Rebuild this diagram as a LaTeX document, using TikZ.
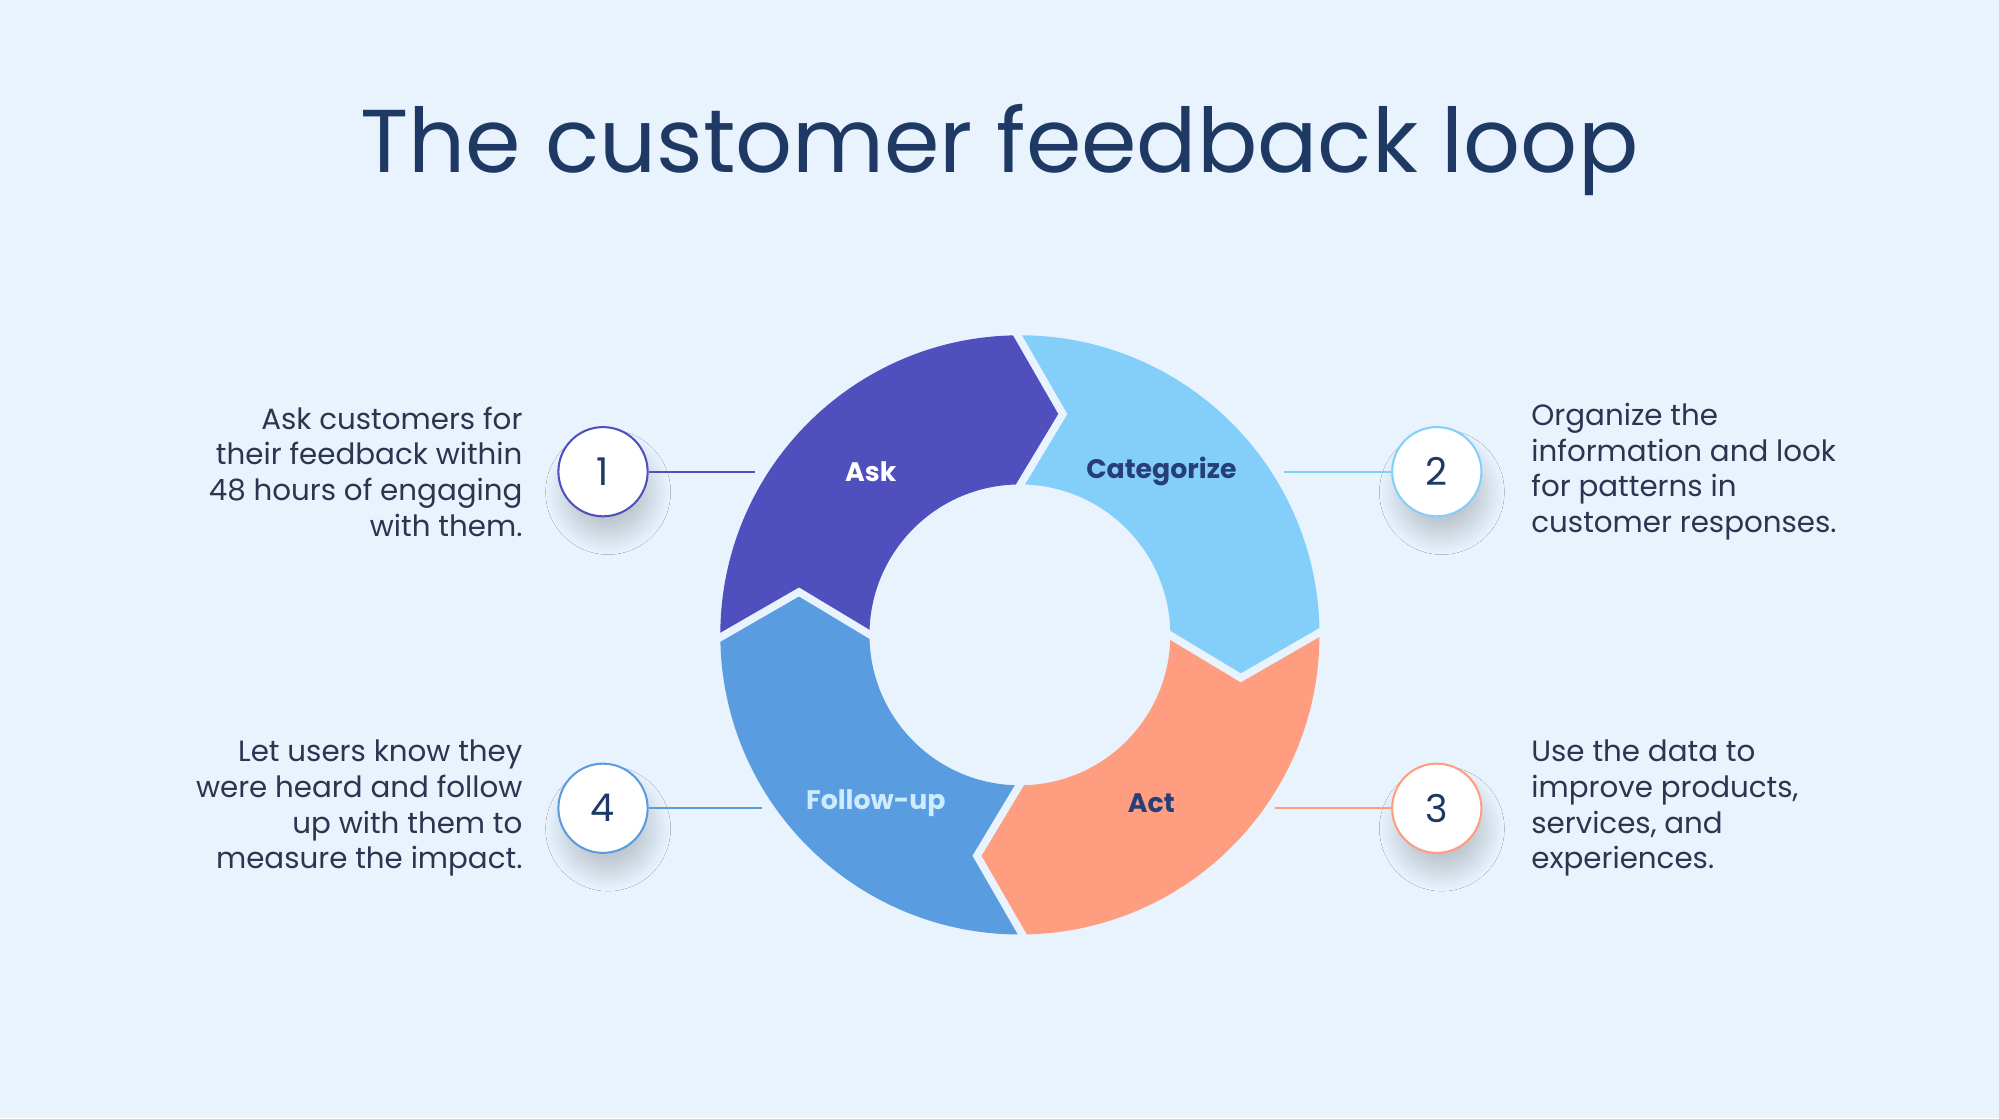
\documentclass[tikz,border=0pt]{standalone}
\usepackage{fontspec}
\setmainfont{Poppins}
\usetikzlibrary{shadows.blur}
\definecolor{bg}{HTML}{E8F3FD}
\definecolor{ttl}{HTML}{1E3A64}
\definecolor{cAsk}{HTML}{4F4FBE}
\definecolor{cCat}{HTML}{84CFFA}
\definecolor{cAct}{HTML}{FF9D80}
\definecolor{cFol}{HTML}{5A9CE0}
\definecolor{txt}{HTML}{2B3550}
\tikzset{
  num/.style={circle,draw=#1,line width=1.6pt,fill=white,minimum size=70pt,inner sep=0pt,font=\fontsize{30}{30}\selectfont,text=ttl,
    blur shadow={shadow xshift=4pt,shadow yshift=-16pt,shadow blur steps=16,shadow blur radius=14pt,shadow opacity=18}},
  lnk/.style={draw=#1,line width=1.6pt},
  desc/.style={font=\fontsize{23}{28}\selectfont,text=txt,inner sep=0pt},
  seg/.style={font=\bfseries\fontsize{21}{21}\selectfont},
}
\begin{document}
\begin{tikzpicture}[x=1pt,y=-1pt]
\fill[bg] (0,0) rectangle (1568,877);
\useasboundingbox (0,0) rectangle (1568,877);
\node[text=ttl,font=\fontsize{70}{70}\selectfont,inner sep=0pt] (title) at (784,118) {The customer feedback loop};
% ring
\begin{scope}[shift={(800,498)},yscale=-1]
\def\ro{235}\def\ri{118}\def\rm{176.5}\def\d{12}
\foreach \a/\b/\c in {181/91/cAsk, 91/1/cCat, 1/-89/cAct, -89/-179/cFol}{
  \fill[\c] (\a:\ro) arc[start angle=\a,end angle=\b,radius=\ro]
    -- (\b-\d:\rm) -- (\b:\ri) arc[start angle=\b,end angle=\a,radius=\ri]
    -- (\a-\d:\rm) -- cycle;
}
\foreach \b in {91,1,-89,181}{
  \draw[bg,line width=6pt,line join=miter] (\b:\ro+4) -- (\b-\d:\rm) -- (\b:\ri-4);
}
\node[seg,text=white] (ask) at (-117,128) {Ask};
\node[seg,text=ttl!80!cAsk] (cat) at (111,128) {Categorize};
\node[seg,text=ttl!80!cAsk] (act) at (103,-132) {Act};
\node[seg,text=cCat!40!white] (fol) at (-113,-132) {Follow-up};
\coordinate (p1) at (-208,128);
\coordinate (p2) at (207,128);
\coordinate (p3) at (200,-136);
\coordinate (p4) at (-202,-136);
\end{scope}
\node[num=cAsk] (n1) at (473,370) {1};
\node[num=cCat] (n2) at (1127,370) {2};
\node[num=cAct] (n3) at (1127,634) {3};
\node[num=cFol] (n4) at (473,634) {4};
\draw[lnk=cAsk] (n1) -- (p1);
\draw[lnk=cCat] (n2) -- (p2);
\draw[lnk=cAct] (n3) -- (p3);
\draw[lnk=cFol] (n4) -- (p4);
\node[desc,anchor=east,align=right] (d1) at (410,370) {Ask customers for\\their feedback within\\48 hours of engaging\\with them.};
\node[desc,anchor=west,align=left] (d2) at (1201,370) {Organize the\\information and look\\for patterns in\\customer responses.};
\node[desc,anchor=west,align=left] (d3) at (1201,634) {Use the data to\\improve products,\\services, and\\experiences.};
\node[desc,anchor=east,align=right] (d4) at (410,634) {Let users know they\\were heard and follow\\up with them to\\measure the impact.};
\end{tikzpicture}
\end{document}
